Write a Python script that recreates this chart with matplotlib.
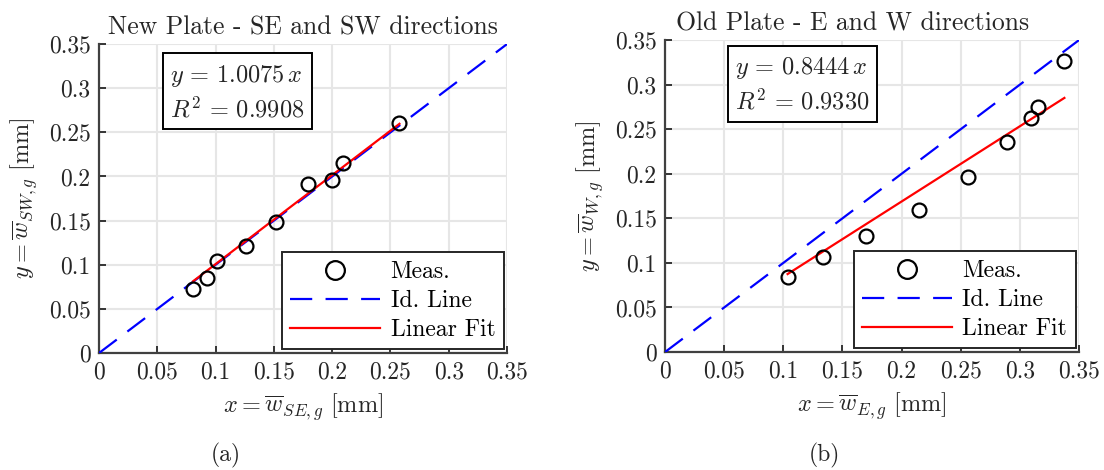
import numpy as np
import matplotlib.pyplot as plt

plt.rcParams['font.family'] = 'serif'
plt.rcParams['font.serif'] = ['cmr10']
plt.rcParams['mathtext.fontset'] = 'cm'
plt.rcParams['axes.formatter.use_mathtext'] = True

# new plate, SE vs SW mean widths [mm]
x_new = [0.0807, 0.0922, 0.1016, 0.1259, 0.1515, 0.1795, 0.2001, 0.2092, 0.2577]
y_new = [0.0720, 0.0845, 0.1045, 0.1216, 0.1489, 0.1910, 0.1960, 0.2155, 0.2607]
slope_new = 1.0075
r2_new = 0.9908

# old plate, E vs W mean widths [mm]
x_old = [0.1036, 0.1332, 0.1703, 0.2149, 0.2557, 0.2895, 0.3097, 0.3153, 0.3376]
y_old = [0.0843, 0.1067, 0.1300, 0.1592, 0.1966, 0.2360, 0.2629, 0.2753, 0.3270]
slope_old = 0.8444
r2_old = 0.9330

ticks = [0, 0.05, 0.1, 0.15, 0.2, 0.25, 0.3, 0.35]
tick_labels = ['0', '0.05', '0.1', '0.15', '0.2', '0.25', '0.3', '0.35']

fig = plt.figure(figsize=(11.04, 4.70), dpi=100)
ax1 = fig.add_axes([0.0897, 0.2489, 0.3696, 0.6574])
ax2 = fig.add_axes([0.6024, 0.2510, 0.3750, 0.6638])


def panel(ax, xs, ys, k, r2, title, xlab, ylab, tx, ty, title_x):
    xs = np.array(xs)
    ax.plot(xs, ys, 'o', mfc='none', mec='black', mew=1.6, ms=10, label='Meas.', zorder=4)
    ax.plot([0, 0.35], [0, 0.35], color='blue', lw=1.6, dashes=[10, 6], label='Id. Line', zorder=3)
    xf = np.array([xs.min(), xs.max()])
    ax.plot(xf, k * xf, color='red', lw=1.6, label='Linear Fit', zorder=3)

    ax.set_xlim(0, 0.35)
    ax.set_ylim(0, 0.35)
    ax.set_xticks(ticks)
    ax.set_xticklabels(tick_labels)
    ax.set_yticks(ticks)
    ax.set_yticklabels(tick_labels)
    ax.tick_params(direction='in', length=5, width=1.3, labelsize=17, colors='#262626', pad=6)
    ax.grid(True, color='#e6e6e6', lw=1.5)
    ax.set_axisbelow(True)
    for s in ['top', 'right']:
        ax.spines[s].set_visible(False)
    for s in ['left', 'bottom']:
        ax.spines[s].set_color('#404040')
        ax.spines[s].set_linewidth(1.6)

    ax.set_title(title, fontsize=18.5, x=title_x, pad=7, color='#262626')
    ax.set_xlabel(xlab, fontsize=17.5, labelpad=6, color='#262626')
    ax.set_ylabel(ylab, fontsize=17.5, labelpad=6, color='#262626')

    ax.text(tx, ty, '$y\\,=\\,%.4f\\,x$\n$R^2\\,=\\,%.4f$' % (k, r2), fontsize=17.5,
            va='top', ha='left', linespacing=1.4, color='#262626',
            bbox=dict(boxstyle='square,pad=0.3', fc='white', ec='black', lw=1.4))

    leg = ax.legend(loc='lower right', fontsize=17, handlelength=3.8, markerscale=1.35,
                    fancybox=False, framealpha=1, edgecolor='#262626',
                    borderaxespad=0.15, labelspacing=0.3, borderpad=0.35, handletextpad=0.45)
    leg.get_frame().set_linewidth(1.4)


panel(ax1, x_new, y_new, slope_new, r2_new, 'New Plate - SE and SW directions',
      r'$x = \overline{w}_{SE,g}\ [\mathrm{mm}]$', r'$y = \overline{w}_{SW,g}\ [\mathrm{mm}]$',
      0.061, 0.329, 0.5)
panel(ax2, x_old, y_old, slope_old, r2_old, 'Old Plate - E and W directions',
      r'$x = \overline{w}_{E,g}\ [\mathrm{mm}]$', r'$y = \overline{w}_{W,g}\ [\mathrm{mm}]$',
      0.059, 0.333, 0.452)

fig.text(226 / 1104, 1 - 455 / 470, '(a)', fontsize=17, ha='center', va='center', color='#262626')
fig.text(824 / 1104, 1 - 455 / 470, '(b)', fontsize=17, ha='center', va='center', color='#262626')

fig.savefig('out.png', dpi=100)
